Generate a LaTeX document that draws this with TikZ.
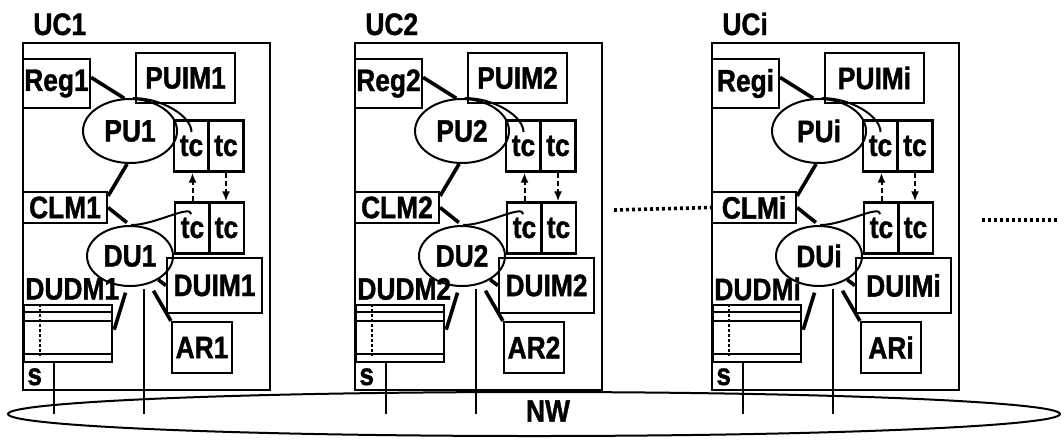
\documentclass[tikz,border=0pt]{standalone}
\usepackage{fontspec}
\setmainfont{Liberation Sans}[FakeStretch=0.85, BoldFeatures={FakeBold=1.2}]
\usetikzlibrary{arrows.meta,shapes.geometric}
\newcommand{\labfont}{\bfseries\fontsize{15.5}{18}\selectfont}
\tikzset{
  unitbox/.style={draw, line width=1pt, inner sep=0pt},
  blk/.style={draw, line width=1.1pt, inner sep=0pt, font=\labfont},
  proc/.style={ellipse, draw, line width=1pt, inner sep=0pt, font=\labfont},
  tcbox/.style={blk, minimum width=17.5pt, minimum height=25.5pt},
  txt/.style={font=\labfont, inner sep=0pt},
  link/.style={line width=1.8pt},
  bus/.style={line width=1.2pt},
  arc/.style={line width=1pt},
  sig/.style={-{Latex[length=5pt,width=4pt]}, line width=1pt, dash pattern=on 2.5pt off 1.5pt},
  cont/.style={line width=1.8pt, dash pattern=on 1.5pt off 1.5pt},
}

\begin{document}
\begin{tikzpicture}[x=0.5pt, y=-0.5pt]
  \useasboundingbox (0,0) rectangle (1064,440);
  % network
  \node[ellipse, draw, line width=1pt, inner sep=0pt,
        minimum width=526pt, minimum height=22pt] (nw) at (534,414) {};
  \node[txt] (nwl) at (548,411) {NW};
  % one unit per cell
  \foreach \ox/\k in {0/1,332/2,689/i}{
    \node[unitbox, minimum width=123.5pt, minimum height=173.5pt] (uc\k) at ({\ox+146.5},216.5) {};
    \node[txt, anchor=base west] (ucl\k) at ({\ox+33},35) {UC\k};
    \node[blk, minimum width=33.5pt, minimum height=24.5pt] (reg\k) at ({\ox+56.5},83.5) {Reg\k};
    \node[blk, minimum width=49.5pt, minimum height=25pt] (puim\k) at ({\ox+185.5},78) {PUIM\k};
    \node[proc, minimum width=47pt, minimum height=32pt] (pu\k) at ({\ox+130},131) {PU\k};
    \node[tcbox] (tca\k) at ({\ox+191.5},146) {tc};
    \node[tcbox] (tcb\k) at ({\ox+226},146) {tc};
    \node[blk, minimum width=42pt, minimum height=15.5pt] (clm\k) at ({\ox+65},207.5) {CLM\k};
    \node[tcbox] (tcc\k) at ({\ox+192.5},228) {tc};
    \node[tcbox] (tcd\k) at ({\ox+226.5},228) {tc};
    \node[proc, minimum width=43pt, minimum height=30pt] (du\k) at ({\ox+130},256) {DU\k};
    \node[blk, minimum width=47.5pt, minimum height=27.5pt] (duim\k) at ({\ox+214.5},285.5) {DUIM\k};
    \node[txt, anchor=west] (dudm\k) at ({\ox+25},289) {DUDM\k};
    \node[unitbox, minimum width=44pt, minimum height=28.5pt] (store\k) at ({\ox+68},333.5) {};
    \node[blk, minimum width=30pt, minimum height=25.5pt] (ar\k) at ({\ox+202},347.5) {AR\k};
    \node[txt, anchor=base west] (s\k) at ({\ox+27},385) {s};
    % store rows
    \draw[line width=1pt] ([yshift=-4pt]store\k.north west) -- ([yshift=-4pt]store\k.north east);
    \draw[line width=1pt] ([yshift=-8.5pt]store\k.north west) -- ([yshift=-8.5pt]store\k.north east);
    \draw[line width=1pt] ([yshift=4.5pt]store\k.south west) -- ([yshift=4.5pt]store\k.south east);
    \draw[line width=1.2pt, dash pattern=on 1.5pt off 1pt]
      ([xshift=8.5pt]store\k.north west) -- ([xshift=8.5pt,yshift=3.5pt]store\k.south west);
    % links
    \draw[link] (reg\k.10) -- (pu\k.100);
    \draw[link] (pu\k.-95) -- (clm\k.15);
    \draw[link, shorten >=2pt] (clm\k.east) -- (du\k.north);
    \draw[arc, shorten >=7pt] (pu\k.85) to[out=0, in=90] (tca\k.center);
    \draw[arc, shorten >=7pt] (du\k.88) to[out=0, in=95] (tcc\k.center);
    \draw[sig] (tcc\k.north) -- (tcc\k.north |- tca\k.south);
    \draw[sig] (tcb\k.south) -- (tcb\k.south |- tcd\k.north);
    \draw[link, shorten <=3pt, shorten >=2pt] (du\k.-95) -- (store\k.east);
    \draw[link] (du\k.-40) -- (duim\k.west);
    \draw[link, shorten <=4pt] (du\k.-55) -- (ar\k.north west);
    \draw[bus, shorten <=2pt] (du\k.-65) -- (du\k.-65 |- nw.center);
    \coordinate (sv\k) at ([xshift=15.5pt]store\k.south west);
    \draw[bus] (sv\k) -- (sv\k |- nw.center);
  }
  % more units
  \coordinate (gapl) at (614,210);
  \draw[cont] (gapl) -- (clmi.west);
  \coordinate (taila) at (982,220);
  \coordinate (tailb) at (1058,220);
  \draw[cont] (taila) -- (tailb);
\end{tikzpicture}
\end{document}
